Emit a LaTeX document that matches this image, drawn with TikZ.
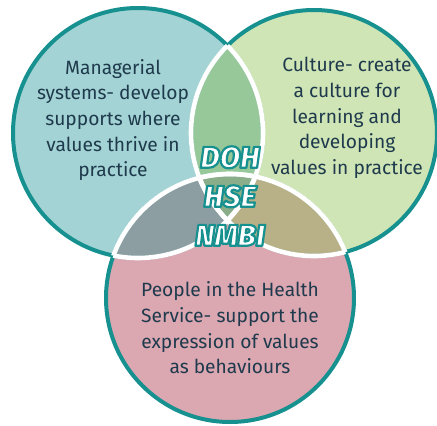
\documentclass[tikz,border=0pt]{standalone}
\usepackage{fontspec}
\setmainfont{Fira Sans}
\newfontfamily\brandfont{Fira Sans Black Italic}
\usepackage{tikz}

\definecolor{ringteal}{HTML}{17918F}
\definecolor{inktext}{HTML}{1E3A4C}
\definecolor{fillmgmt}{HTML}{A3D3D4}
\definecolor{fillculture}{HTML}{CFE5B5}
\definecolor{fillpeople}{HTML}{DBA7B1}
\definecolor{fillmc}{HTML}{97C899}
\definecolor{fillmp}{HTML}{8D9EA3}
\definecolor{fillcp}{HTML}{B8B087}
\definecolor{fillall}{HTML}{8AAE89}
% outlined lettering: fill white, stroke teal
\newcommand{\outlined}[1]{\special{pdf:literal direct 0.09 0.569 0.561 RG 2.2 w 1 j 2 Tr}#1\special{pdf:literal direct 0 Tr}}

\begin{document}
\begin{tikzpicture}[x=1pt,y=-1pt,
  ring/.style={draw=ringteal,line width=4pt},
  seam/.style={draw=white,line width=4.6pt},
  venn text/.style={text=inktext,align=center,
    font=\fontsize{19.2}{25.7}\selectfont},
  brand/.style={align=center,text=white,
    font=\fontsize{30}{39}\selectfont\brandfont}]
  \useasboundingbox (0,0) rectangle (437,426);
  \coordinate (mgmt) at (138,133);
  \coordinate (culture) at (314,133);
  \coordinate (people) at (230,298);
  \def\rm{125pt} \def\rc{123pt} \def\rp{124pt}
  % plain discs
  \fill[fillmgmt] (mgmt) circle[radius=\rm];
  \fill[fillculture] (culture) circle[radius=\rc];
  \fill[fillpeople] (people) circle[radius=\rp];
  % overlaps
  \begin{scope}
    \clip (mgmt) circle[radius=\rm];
    \fill[fillmc] (culture) circle[radius=\rc];
    \fill[fillmp] (people) circle[radius=\rp];
    \clip (culture) circle[radius=\rc];
    \fill[fillall] (people) circle[radius=\rp];
  \end{scope}
  \begin{scope}
    \clip (culture) circle[radius=\rc];
    \fill[fillcp] (people) circle[radius=\rp];
    \clip (mgmt) circle[radius=\rm];
    \fill[fillall] (people) circle[radius=\rp];
  \end{scope}
  % outer rings
  \draw[ring] (mgmt) circle[radius=\rm];
  \draw[ring] (culture) circle[radius=\rc];
  \draw[ring] (people) circle[radius=\rp];
  % white seams inside the other discs
  \foreach \a/\ra/\b/\rb in {mgmt/\rm/culture/\rc, mgmt/\rm/people/\rp,
      culture/\rc/mgmt/\rm, culture/\rc/people/\rp,
      people/\rp/mgmt/\rm, people/\rp/culture/\rc}
  {
    \begin{scope}
      \clip (\b) circle[radius=\rb];
      \draw[seam] (\a) circle[radius=\ra];
    \end{scope}
  }
  \node[venn text] (mgmt_txt) at (113,120)
    {Managerial\\systems- develop\\supports where\\values thrive in\\practice};
  \node[venn text] (culture_txt) at (347,118)
    {Culture- create\\a culture for\\learning and\\developing\\values in practice};
  \node[venn text] (people_txt) at (230,328)
    {People in the Health\\Service- support the\\expression of values\\as behaviours};
  \node[brand] (bodies) at (230,196)
    {\outlined{DOH}\\\outlined{HSE}\\\outlined{NMBI}};
\end{tikzpicture}
\end{document}
